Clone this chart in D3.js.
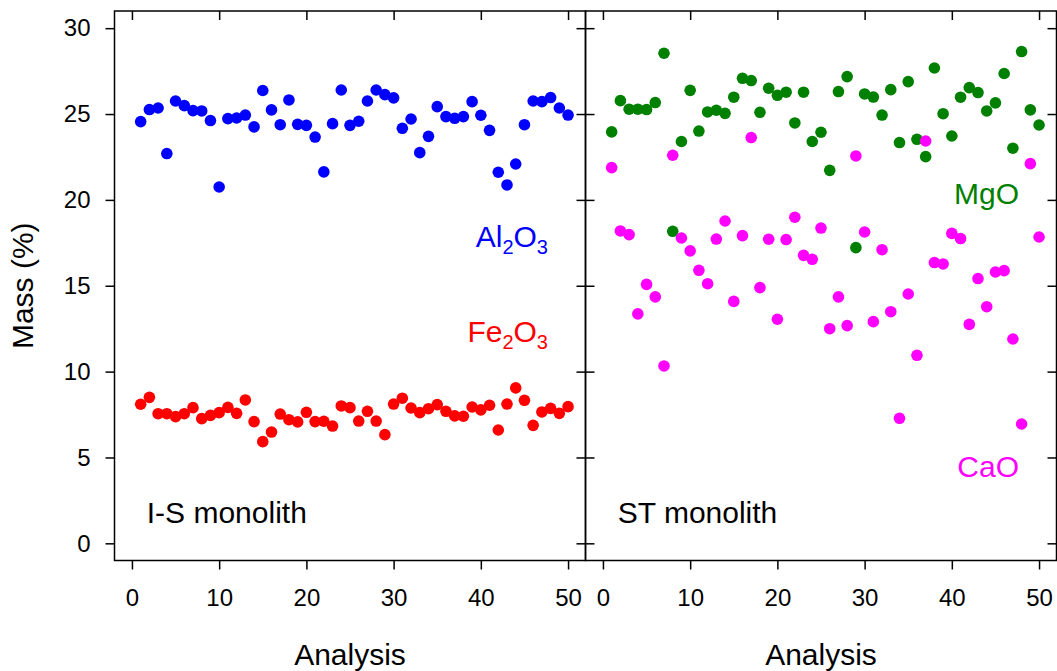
<!DOCTYPE html>
<html>
<head>
<meta charset="utf-8">
<script src="https://cdn.jsdelivr.net/npm/d3@7"></script>
<style>
body { margin: 0; background: #fff; }
text { font-family: "Liberation Sans", Arial, sans-serif; fill: #000; }
</style>
</head>
<body>
<svg id="chart" width="1057" height="671"></svg>
<script>
// analysis number (x) shared by every series
var analysis = d3.range(1, 51);

// I-S monolith
var al2o3 = [24.56, 25.26, 25.35, 22.70, 25.76, 25.49, 25.20, 25.18, 24.62, 20.75,
             24.73, 24.77, 24.94, 24.25, 26.37, 25.24, 24.38, 25.82, 24.40, 24.34,
             23.66, 21.63, 24.44, 26.40, 24.34, 24.58, 25.76, 26.40, 26.13, 25.94,
             24.17, 24.71, 22.75, 23.70, 25.43, 24.85, 24.75, 24.85, 25.72, 24.93,
             24.05, 21.61, 20.87, 22.09, 24.38, 25.76, 25.72, 25.96, 25.35, 24.94];
var fe2o3 = [8.10, 8.50, 7.55, 7.55, 7.38, 7.55, 7.90, 7.26, 7.45, 7.61,
             7.92, 7.57, 8.35, 7.09, 5.92, 6.48, 7.53, 7.20, 7.07, 7.63,
             7.09, 7.11, 6.83, 8.00, 7.90, 7.12, 7.69, 7.12, 6.33, 8.11,
             8.45, 7.88, 7.61, 7.84, 8.08, 7.69, 7.42, 7.40, 7.94, 7.77,
             8.04, 6.60, 8.11, 9.05, 8.33, 6.87, 7.65, 7.86, 7.57, 7.96];

// ST monolith
var mgo = [23.96, 25.78, 25.28, 25.28, 25.26, 25.67, 28.54, 18.17, 23.40, 26.38,
           24.01, 25.12, 25.22, 25.04, 25.98, 27.08, 26.95, 25.10, 26.50, 26.09,
           26.27, 24.48, 26.27, 23.40, 23.94, 21.72, 26.31, 27.18, 17.22, 26.17,
           25.99, 24.94, 26.42, 23.34, 26.89, 23.53, 22.52, 27.68, 25.02, 23.72,
           25.98, 26.54, 26.25, 25.18, 25.65, 27.36, 23.01, 28.64, 25.24, 24.36];
var cao = [21.88, 18.19, 17.98, 13.36, 15.08, 14.35, 10.33, 22.60, 17.78, 17.03,
           15.90, 15.12, 17.72, 18.77, 14.09, 17.92, 23.63, 14.89, 17.71, 13.05,
           17.69, 18.99, 16.77, 16.54, 18.36, 12.50, 14.35, 12.68, 22.56, 18.13,
           12.91, 17.10, 13.49, 7.28, 14.52, 10.95, 23.43, 16.35, 16.27, 18.05,
           17.75, 12.75, 15.42, 13.78, 15.80, 15.88, 11.90, 6.95, 22.11, 17.84];

var xTicks = [0, 10, 20, 30, 40, 50];
var yTicks = [0, 5, 10, 15, 20, 25, 30];

var panels = [
    {name: 'I-S monolith', left: 114.5,
     series: [{values: al2o3, color: '#0000ff', label: ['Al', '2', 'O', '3'], lx: 47.7, ly: 17.25},
              {values: fe2o3, color: '#ff0000', label: ['Fe', '2', 'O', '3'], lx: 47.7, ly: 11.7}]},
    {name: 'ST monolith', left: 585.5,
     series: [{values: mgo, color: '#008000', label: ['MgO'], lx: 47.7, ly: 19.75},
              {values: cao, color: '#ff00ff', label: ['CaO'], lx: 47.7, ly: 3.85}]}
];

var svg = d3.select('#chart');
var pw = 471, plotTop = 11, plotBottom = 560.5;
var tickLen = 9;

var y = d3.scaleLinear().domain([-1, 31]).range([plotBottom, plotTop]);

function styleTicks(a, withText) {
    a.select('.domain').remove();
    a.selectAll('line').style('stroke', '#000').style('stroke-width', 1.5);
    if (withText)
        a.selectAll('text').style('font-size', '24px').
            style('font-family', '"Liberation Sans", Arial, sans-serif').style('fill', '#000');
}

panels.forEach(function(p, pi) {
    var x = d3.scaleLinear().domain([-2, 52]).range([p.left, p.left + pw]);
    var g = svg.append('g').attr('class', 'panel');

    // points
    p.series.forEach(function(s) {
        g.append('g').selectAll('circle').
            data(s.values).
            enter().
            append('circle').
            attr('cx', function(d, i) { return x(analysis[i]); }).
            attr('cy', function(d) { return y(d); }).
            attr('r', 5.8).
            style('fill', s.color);

        var t = g.append('text').
            attr('x', x(s.lx)).attr('y', y(s.ly)).
            attr('text-anchor', 'end').
            style('font-size', '30px').
            style('fill', s.color);
        s.label.forEach(function(part, k) {
            var sub = (k % 2 == 1);
            t.append('tspan').
                style('font-size', sub ? '20px' : '30px').
                style('fill', s.color).
                attr('dy', sub ? 7 : (k > 0 ? -7 : 0)).
                text(part);
        });
    });

    // bottom axis (outward ticks, labelled)
    g.append('g').attr('transform', 'translate(0,' + plotBottom + ')').
        call(d3.axisBottom(x).tickValues(xTicks).tickSize(tickLen).tickPadding(19).tickFormat(d3.format('d'))).
        call(styleTicks, true);

    // top axis (inward ticks)
    g.append('g').attr('transform', 'translate(0,' + plotTop + ')').
        call(d3.axisBottom(x).tickValues(xTicks).tickSize(tickLen).tickFormat('')).
        call(styleTicks, false);

    // left side ticks: outward with labels on the first panel, inward otherwise
    if (pi == 0) {
        g.append('g').attr('transform', 'translate(' + p.left + ',0)').
            call(d3.axisLeft(y).tickValues(yTicks).tickSize(tickLen).tickPadding(15)).
            call(styleTicks, true);
    } else {
        g.append('g').attr('transform', 'translate(' + p.left + ',0)').
            call(d3.axisRight(y).tickValues(yTicks).tickSize(tickLen).tickFormat('')).
            call(styleTicks, false);
    }

    // right side ticks, inward
    g.append('g').attr('transform', 'translate(' + (p.left + pw) + ',0)').
        call(d3.axisLeft(y).tickValues(yTicks).tickSize(tickLen).tickFormat('')).
        call(styleTicks, false);

    // panel border
    g.append('rect').
        attr('x', p.left).attr('y', plotTop).attr('width', pw).attr('height', plotBottom - plotTop).
        style('fill', 'none').style('stroke', '#000').style('stroke-width', 1.5);

    // panel name
    g.append('text').
        attr('x', x(1.7)).attr('y', y(1.2)).
        style('font-size', '30px').
        text(p.name);

    // x axis title
    g.append('text').
        attr('x', p.left + pw / 2).attr('y', 665).
        attr('text-anchor', 'middle').
        style('font-size', '30px').
        text('Analysis');
});

// y axis title
svg.append('text').
    attr('transform', 'translate(33,' + y(15) + ') rotate(-90)').
    attr('text-anchor', 'middle').
    style('font-size', '30px').
    text('Mass (%)');
</script>
</body>
</html>
